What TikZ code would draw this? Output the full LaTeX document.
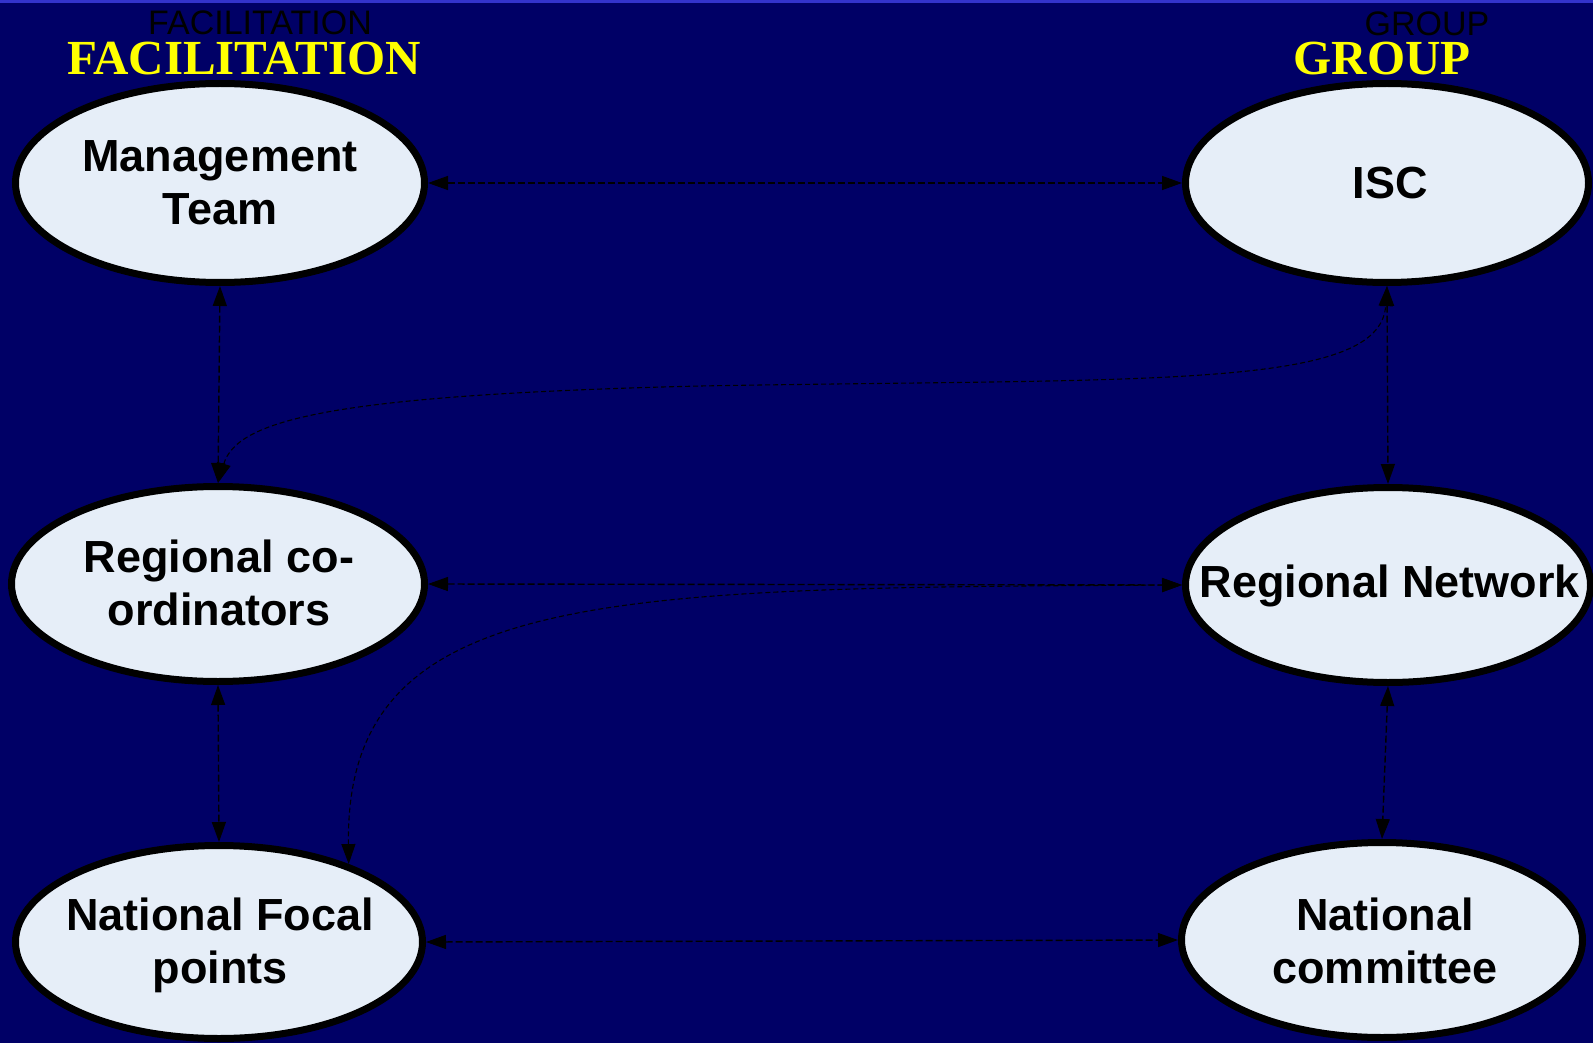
\documentclass[tikz,border=0pt]{standalone}
\usepackage{fontspec}
\setmainfont{Liberation Sans}
\newfontfamily\timesfont{Liberation Serif}
\usetikzlibrary{arrows.meta,shapes.geometric}
\definecolor{bgnavy}{RGB}{0,0,102}
\definecolor{stripe}{RGB}{51,51,204}
\definecolor{ovalfill}{RGB}{230,238,248}
\definecolor{headyellow}{RGB}{255,255,0}
\begin{document}
\begin{tikzpicture}[x=1pt,y=-1pt,
  oval/.style={ellipse, draw=black, line width=7pt, fill=ovalfill, inner sep=0pt},
  lbl/.style={align=center, inner sep=0pt, font=\fontsize{45}{53}\selectfont\bfseries, text=black},
  headblack/.style={anchor=base, inner sep=0pt, text=black, font=\fontsize{34}{40}\selectfont},
  headyel/.style={anchor=base, inner sep=0pt, text=headyellow, font=\timesfont\bfseries\fontsize{49}{56}\selectfont},
  link/.style={draw=black, line width=1.4pt, dash pattern=on 7pt off 3pt,
    {Triangle[length=20pt,width=14pt]}-{Triangle[length=20pt,width=14pt]}},
  curvelink/.style={draw=black, line width=1.1pt, dash pattern=on 5pt off 3pt,
    {Triangle[length=20pt,width=14pt]}-{Triangle[length=20pt,width=14pt]}}]
\useasboundingbox (0,0) rectangle (1593,1043);
\fill[bgnavy] (0,0) rectangle (1593,1043);
\fill[stripe] (0,0) rectangle (1593,3);

% headers
\node[headblack] (hfb) at (260,35) {FACILITATION};
\node[headyel] (hfy) at (244,75) {FACILITATION};
\node[headblack] (hgb) at (1427,36) {GROUP};
\node[headyel] (hgy) at (1382,75) {GROUP};

% ovals
\node[oval, minimum width=409pt, minimum height=199pt] (MT) at (220,183) {};
\node[oval, minimum width=403pt, minimum height=199pt] (ISC) at (1387,183) {};
\node[oval, minimum width=413pt, minimum height=195pt] (RC) at (218,584) {};
\node[oval, minimum width=405pt, minimum height=195pt] (RN) at (1388,585) {};
\node[oval, minimum width=407pt, minimum height=193pt] (NFP) at (219,942) {};
\node[oval, minimum width=401pt, minimum height=195pt] (NC) at (1382,940) {};

% labels
\node[lbl] (tMT) at (220,183) {Management\\Team};
\node[lbl] (tISC) at (1390,183) {ISC};
\node[lbl] (tRC) at (219,583) {Regional co-\\ordinators};
\node[lbl] (tRN) at (1390,586) {Regional Network};
\node[lbl] (tNFP) at (220,945) {National Focal\\points};
\node[lbl] (tNC) at (1385,941) {National\\committee};

% straight links
\draw[link] (MT.east) -- (ISC.west);
\draw[link] (MT.south) -- (RC.north);
\draw[link] (ISC.south) -- (RN.north);
\draw[link] (RC.east) -- (RN.west);
\draw[link] (RC.south) -- (NFP.north);
\draw[link] (RN.south) -- (NC.north);
\draw[link] (NFP.east) -- (NC.west);

% curved links
\draw[curvelink] (RC.north) .. controls (237,420) and (330,395) .. (700,386)
  .. controls (1150,378) and (1380,390) .. (ISC.south);
\draw[curvelink] (RN.west) .. controls (600,588) and (345,590) .. (NFP.31);
\end{tikzpicture}
\end{document}
